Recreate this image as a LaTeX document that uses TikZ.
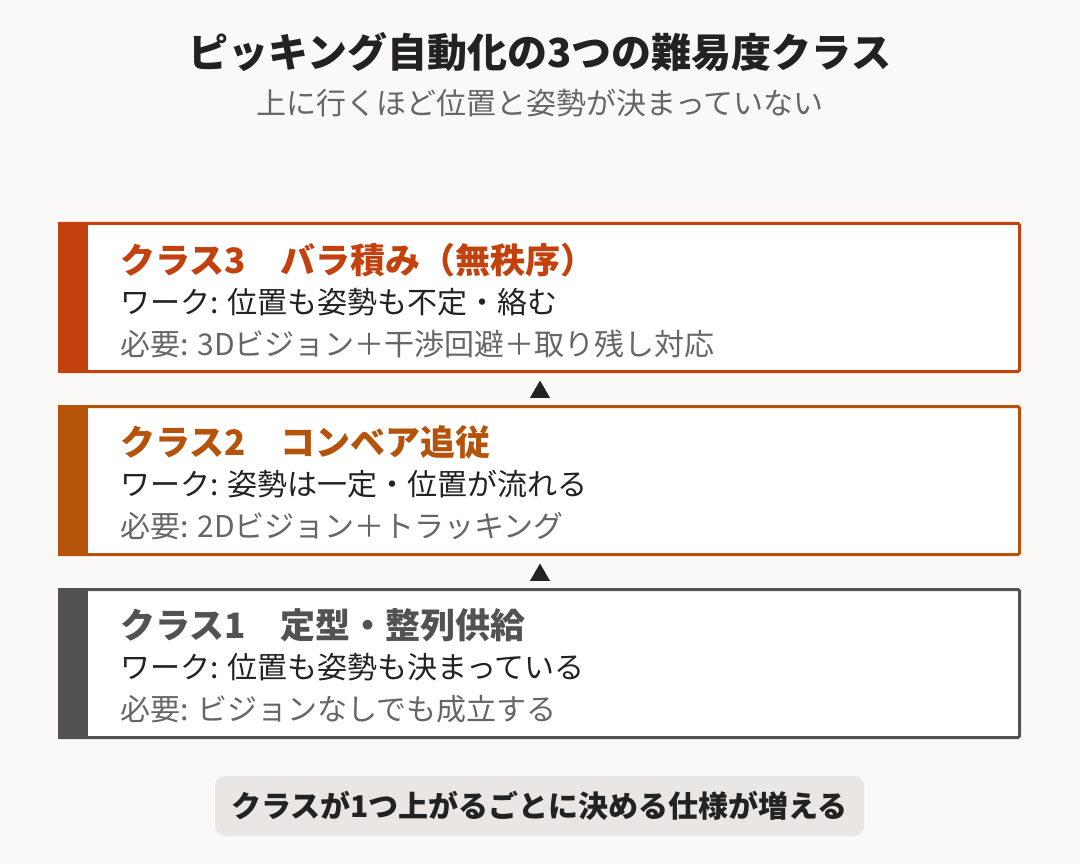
\documentclass[tikz,border=0pt]{standalone}
\usepackage{fontspec}
\setmainfont{Noto Sans CJK JP}
\usetikzlibrary{shapes.geometric}
\definecolor{bgcol}{HTML}{FAF9F7}
\definecolor{inkcol}{HTML}{222222}
\definecolor{subcol}{HTML}{666666}
\definecolor{cthree}{HTML}{C2410C}
\definecolor{ctwo}{HTML}{B45309}
\definecolor{cone}{HTML}{525252}
\definecolor{pillcol}{HTML}{E9E6E3}
\newcommand{\fsz}[1]{\fontsize{#1}{#1}\selectfont}
\begin{document}
\begin{tikzpicture}[x=1pt,y=-1pt,
	classbox/.style={draw, line width=3pt, fill=white, rounded corners=1.5pt, minimum width=960pt, minimum height=148pt, inner sep=0pt},
	headtxt/.style={anchor=west, inner sep=0pt, font=\fsz{35}\bfseries},
	worktxt/.style={anchor=west, inner sep=0pt, text=inkcol, font=\fsz{30}},
	needtxt/.style={anchor=west, inner sep=0pt, text=subcol, font=\fsz{30}},
	uptri/.style={regular polygon, regular polygon sides=3, fill=inkcol, inner sep=0pt, minimum size=23pt}]
	\fill[bgcol] (0,0) rectangle (1080,864);
	\useasboundingbox (0,0) rectangle (1080,864);
	% title
	\node[text=inkcol, font=\fsz{40}\bfseries] (title) at (540,52) {ピッキング自動化の3つの難易度クラス};
	\node[text=subcol, font=\fsz{30}] (subtitle) at (540,103) {上に行くほど位置と姿勢が決まっていない};
	% class 3
	\node[classbox, draw=cthree] (c3) at (539.5,297.5) {};
	\fill[cthree] (58,222) rectangle (88,373);
	\node[headtxt, text=cthree] (c3head) at (120,260) {クラス3　バラ積み（無秩序）};
	\node[worktxt] (c3work) at (120,302) {ワーク: 位置も姿勢も不定・絡む};
	\node[needtxt] (c3need) at (120,344) {必要: 3Dビジョン＋干渉回避＋取り残し対応};
	% class 2
	\node[classbox, draw=ctwo] (c2) at (539.5,480.5) {};
	\fill[ctwo] (58,405) rectangle (88,556);
	\node[headtxt, text=ctwo] (c2head) at (120,442) {クラス2　コンベア追従};
	\node[worktxt] (c2work) at (120,484) {ワーク: 姿勢は一定・位置が流れる};
	\node[needtxt] (c2need) at (120,526) {必要: 2Dビジョン＋トラッキング};
	% class 1
	\node[classbox, draw=cone] (c1) at (539.5,663.5) {};
	\fill[cone] (58,588) rectangle (88,739);
	\node[headtxt, text=cone] (c1head) at (120,625) {クラス1　定型・整列供給};
	\node[worktxt] (c1work) at (120,667) {ワーク: 位置も姿勢も決まっている};
	\node[needtxt] (c1need) at (120,709) {必要: ビジョンなしでも成立する};
	% arrows
	\node[uptri] (up32) at (540,392) {};
	\node[uptri] (up21) at (540,575) {};
	% note
	\node[fill=pillcol, rounded corners=10pt, minimum width=649pt, minimum height=60pt, text=inkcol, font=\fsz{30}\bfseries] (note) at (539.5,806) {クラスが1つ上がるごとに決める仕様が増える};
\end{tikzpicture}
\end{document}
